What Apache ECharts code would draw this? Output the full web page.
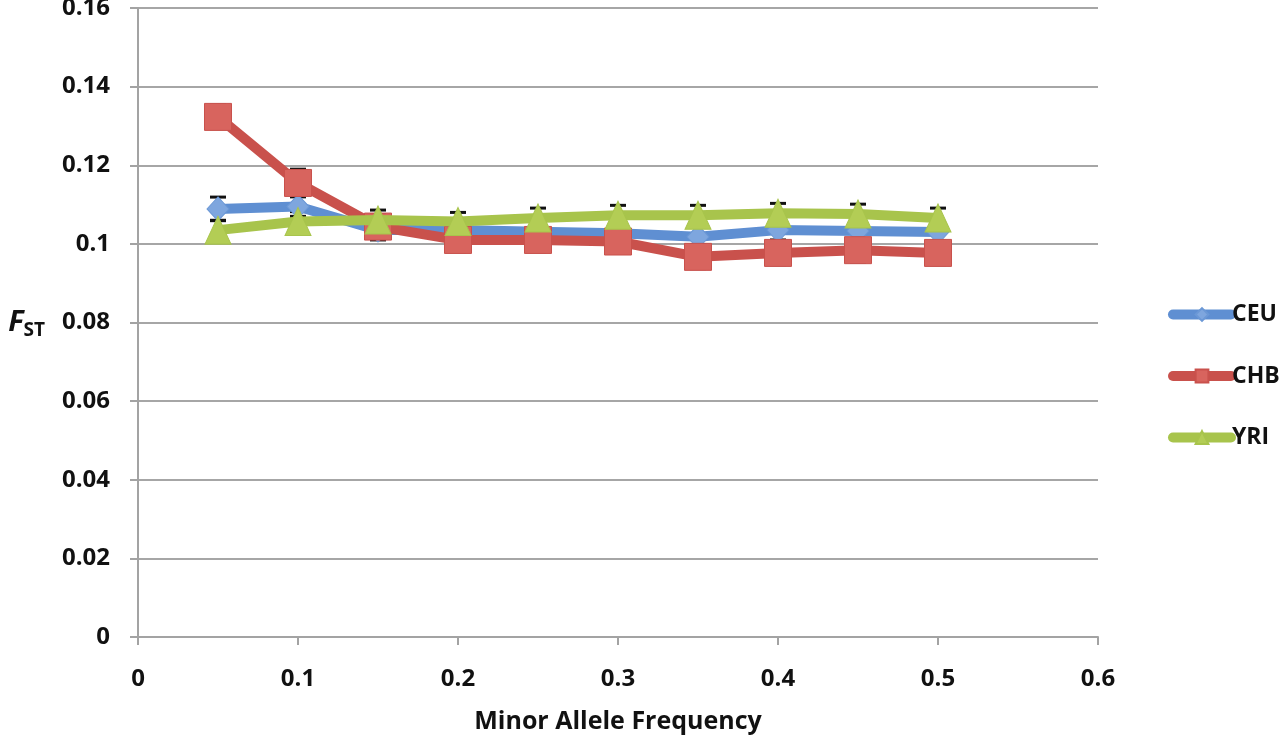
<!DOCTYPE html>
<html>
<head>
<meta charset="utf-8">
<script src="https://cdn.jsdelivr.net/npm/echarts@6/dist/echarts.min.js"></script>
<style>html,body{margin:0;padding:0;background:#fff;}#c{width:1280px;height:735px;}</style>
</head>
<body>
<div id="c"></div>
<script>
var mafs = [0.05, 0.1, 0.15, 0.2, 0.25, 0.3, 0.35, 0.4, 0.45, 0.5];
var ceu = [0.1089, 0.1095, 0.1035, 0.1035, 0.1031, 0.1027, 0.1018, 0.1035, 0.1033, 0.1030];
var chb = [0.1323, 0.1155, 0.1044, 0.1010, 0.1010, 0.1006, 0.0967, 0.0977, 0.0984, 0.0977];
var yri = [0.1035, 0.1057, 0.1061, 0.1057, 0.1066, 0.1073, 0.1073, 0.1078, 0.1076, 0.1066];
var ceuErr = [0.0030, 0.0025, 0.0025, 0.0025, 0.0025, 0.0025, 0.0025, 0.0025, 0.0025, 0.0025];
var chbErr = [0.0030, 0.0035, 0.0030, 0.0030, 0.0030, 0.0030, 0.0030, 0.0030, 0.0030, 0.0030];
var yriErr = [0.0025, 0.0025, 0.0025, 0.0023, 0.0025, 0.0025, 0.0025, 0.0025, 0.0025, 0.0025];
var xTicks = [0, 0.1, 0.2, 0.3, 0.4, 0.5, 0.6];
var yTicks = [0, 0.02, 0.04, 0.06, 0.08, 0.1, 0.12, 0.14, 0.16];

function pairs(vals) { return mafs.map(function (m, i) { return [m, vals[i]]; }); }
function errData(vals, errs) { return mafs.map(function (m, i) { return [m, vals[i], errs[i]]; }); }

function errRender(params, api) {
  var x = api.value(0), y = api.value(1), e = api.value(2);
  var top = api.coord([x, y + e]);
  var bot = api.coord([x, y - e]);
  var hw = 8;
  var st = { stroke: '#111', lineWidth: 3 };
  return {
    type: 'group',
    children: [
      { type: 'line', shape: { x1: top[0], y1: top[1], x2: bot[0], y2: bot[1] }, style: st },
      { type: 'line', shape: { x1: top[0] - hw, y1: top[1], x2: top[0] + hw, y2: top[1] }, style: st },
      { type: 'line', shape: { x1: bot[0] - hw, y1: bot[1], x2: bot[0] + hw, y2: bot[1] }, style: st }
    ]
  };
}

var labelStyle = { fontFamily: 'Open Sans', fontWeight: 'bold', fontSize: 24, color: '#111' };

var chart = echarts.init(document.getElementById('c'));
chart.setOption({
  animation: false,
  backgroundColor: '#fff',
  grid: { left: 138, right: 182, top: 8, bottom: 98, containLabel: false, outerBoundsMode: 'none' },
  legend: {
    orient: 'vertical',
    left: 1168,
    top: 303,
    padding: 0,
    itemGap: 38.5,
    itemWidth: 58,
    itemHeight: 16,
    lineStyle: { width: 10, cap: 'round' },
    textStyle: { fontFamily: 'Open Sans', fontWeight: 'bold', fontSize: 23, lineHeight: 20, color: '#111', padding: [0, 0, 0, -4] },
    data: ['CEU', 'CHB', 'YRI']
  },
  xAxis: {
    type: 'value',
    min: 0, max: 0.6, interval: 0.1,
    name: 'Minor Allele Frequency',
    nameLocation: 'middle',
    nameGap: 72,
    nameTextStyle: { fontFamily: 'Open Sans', fontWeight: 'bold', fontSize: 25, color: '#111' },
    axisLine: { lineStyle: { color: '#a3a3a3', width: 2 } },
    axisTick: { show: true, length: 8, lineStyle: { color: '#a3a3a3', width: 2 } },
    axisLabel: Object.assign({ margin: 30, formatter: function (v) { return String(Math.round(v * 10) / 10); } }, labelStyle),
    splitLine: { show: false }
  },
  yAxis: {
    type: 'value',
    min: 0, max: 0.16, interval: 0.02,
    name: '{f|F}{s|ST}',
    nameLocation: 'middle',
    nameRotate: 0,
    nameGap: 93,
    nameTextStyle: {
      rich: {
        f: { fontFamily: 'Open Sans', fontWeight: 'bold', fontStyle: 'italic', fontSize: 29, color: '#111' },
        s: { fontFamily: 'Open Sans', fontWeight: 'bold', fontSize: 19, color: '#111', padding: [16, 0, 0, 0] }
      }
    },
    axisLine: { show: true, lineStyle: { color: '#a3a3a3', width: 2 } },
    axisTick: { show: true, length: 8, lineStyle: { color: '#a3a3a3', width: 2 } },
    axisLabel: Object.assign({ margin: 28, formatter: function (v) { return String(Math.round(v * 100) / 100); } }, labelStyle),
    splitLine: { show: true, lineStyle: { color: '#a6a6a6', width: 2 } }
  },
  series: [
    { name: 'CEU err', type: 'custom', renderItem: errRender, data: errData(ceu, ceuErr), z: 1, encode: { x: 0, y: 1 }, silent: true },
    { name: 'CHB err', type: 'custom', renderItem: errRender, data: errData(chb, chbErr), z: 1, encode: { x: 0, y: 1 }, silent: true },
    { name: 'YRI err', type: 'custom', renderItem: errRender, data: errData(yri, yriErr), z: 1, encode: { x: 0, y: 1 }, silent: true },
    {
      name: 'CEU', type: 'line', data: pairs(ceu), z: 3,
      symbol: 'diamond', symbolSize: [22, 24],
      lineStyle: { color: '#5f8fd2', width: 10, cap: 'round', join: 'round' },
      itemStyle: { color: '#7ea6de', borderColor: '#6b98d6', borderWidth: 1 }
    },
    {
      name: 'CHB', type: 'line', data: pairs(chb), z: 4,
      symbol: 'rect', symbolSize: 27,
      lineStyle: { color: '#c9514c', width: 10, cap: 'round', join: 'round' },
      itemStyle: { color: '#d8645e', borderColor: '#c9514c', borderWidth: 1 }
    },
    {
      name: 'YRI', type: 'line', data: pairs(yri), z: 5,
      symbol: 'triangle', symbolSize: [26, 28],
      lineStyle: { color: '#a8c44c', width: 10, cap: 'round', join: 'round' },
      itemStyle: { color: '#b3cd55', borderColor: '#a8c44c', borderWidth: 1 }
    }
  ]
});
</script>
</body>
</html>
